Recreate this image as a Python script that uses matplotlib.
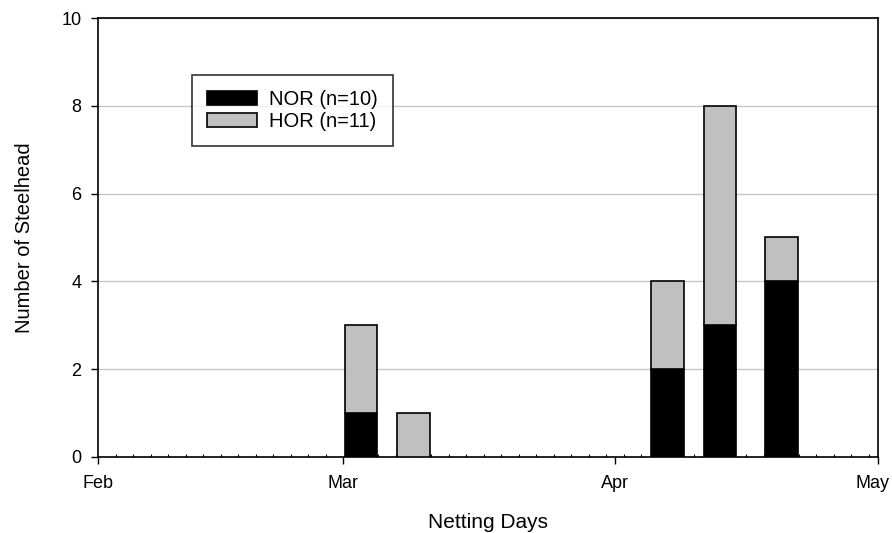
import datetime
import numpy as np
import matplotlib
matplotlib.use('Agg')
import matplotlib.pyplot as plt
import matplotlib.dates as mdates
import matplotlib.transforms as mtransforms

# netting days and counts per origin
dates = ['2011-03-03', '2011-03-09', '2011-04-07', '2011-04-13', '2011-04-20']
nor = [1, 0, 2, 3, 4]
hor = [2, 1, 2, 5, 1]
month_ticks = ['2011-02-01', '2011-03-01', '2011-04-01', '2011-05-01']
month_labels = ['Feb', 'Mar', 'Apr', 'May']

plt.rcParams['font.family'] = ['Liberation Sans', 'DejaVu Sans']

x = [datetime.datetime.strptime(d, '%Y-%m-%d') for d in dates]
ticks = [datetime.datetime.strptime(d, '%Y-%m-%d') for d in month_ticks]

fig = plt.figure(figsize=(8.92, 5.33), dpi=100)
ax = fig.add_axes([0.110, 0.143, 0.874, 0.823])

width = 3.7
ax.bar(x, nor, width=width, color='black', edgecolor='black', linewidth=1.2,
       label='NOR (n=10)', zorder=3)
ax.bar(x, hor, width=width, bottom=nor, color='#c0c0c0', edgecolor='black',
       linewidth=1.2, label='HOR (n=11)', zorder=3)

ax.set_xlim(ticks[0], ticks[-1])
ax.set_ylim(0, 10)
ax.set_xticks(ticks)
ax.set_xticklabels(month_labels)
lo = mdates.date2num(ticks[0])
hi = mdates.date2num(ticks[-1])
ax.set_xticks(np.arange(lo, hi, 2), minor=True)
ax.set_yticks([0, 2, 4, 6, 8, 10])

ax.tick_params(axis='both', which='major', direction='out', length=5, width=1,
               labelsize=13)
ax.tick_params(axis='x', which='major', pad=8)
ax.tick_params(axis='y', which='major', pad=7)
ax.tick_params(axis='x', which='minor', direction='in', length=2, width=0.8)
ax.yaxis.grid(True, color='#c8c8c8', linewidth=1)
ax.set_axisbelow(True)
for s in ax.spines.values():
    s.set_linewidth(1.2)

# keep "May" inside the canvas
last = ax.get_xticklabels()[-1]
last.set_transform(last.get_transform() +
                   mtransforms.ScaledTranslation(-5 / 100, 0, fig.dpi_scale_trans))

ax.set_xlabel('Netting Days', fontsize=15, labelpad=15)
ax.set_ylabel('Number of Steelhead', fontsize=14.5, labelpad=20)

leg = ax.legend(loc='upper left', bbox_to_anchor=(0.12, 0.87), fontsize=14.5,
                frameon=True, fancybox=False, edgecolor='black',
                handlelength=2.5, handleheight=0.65, borderpad=0.75,
                labelspacing=0.15, handletextpad=0.6, borderaxespad=0)
leg.get_frame().set_linewidth(1.2)

fig.savefig('out.png', dpi=100)
